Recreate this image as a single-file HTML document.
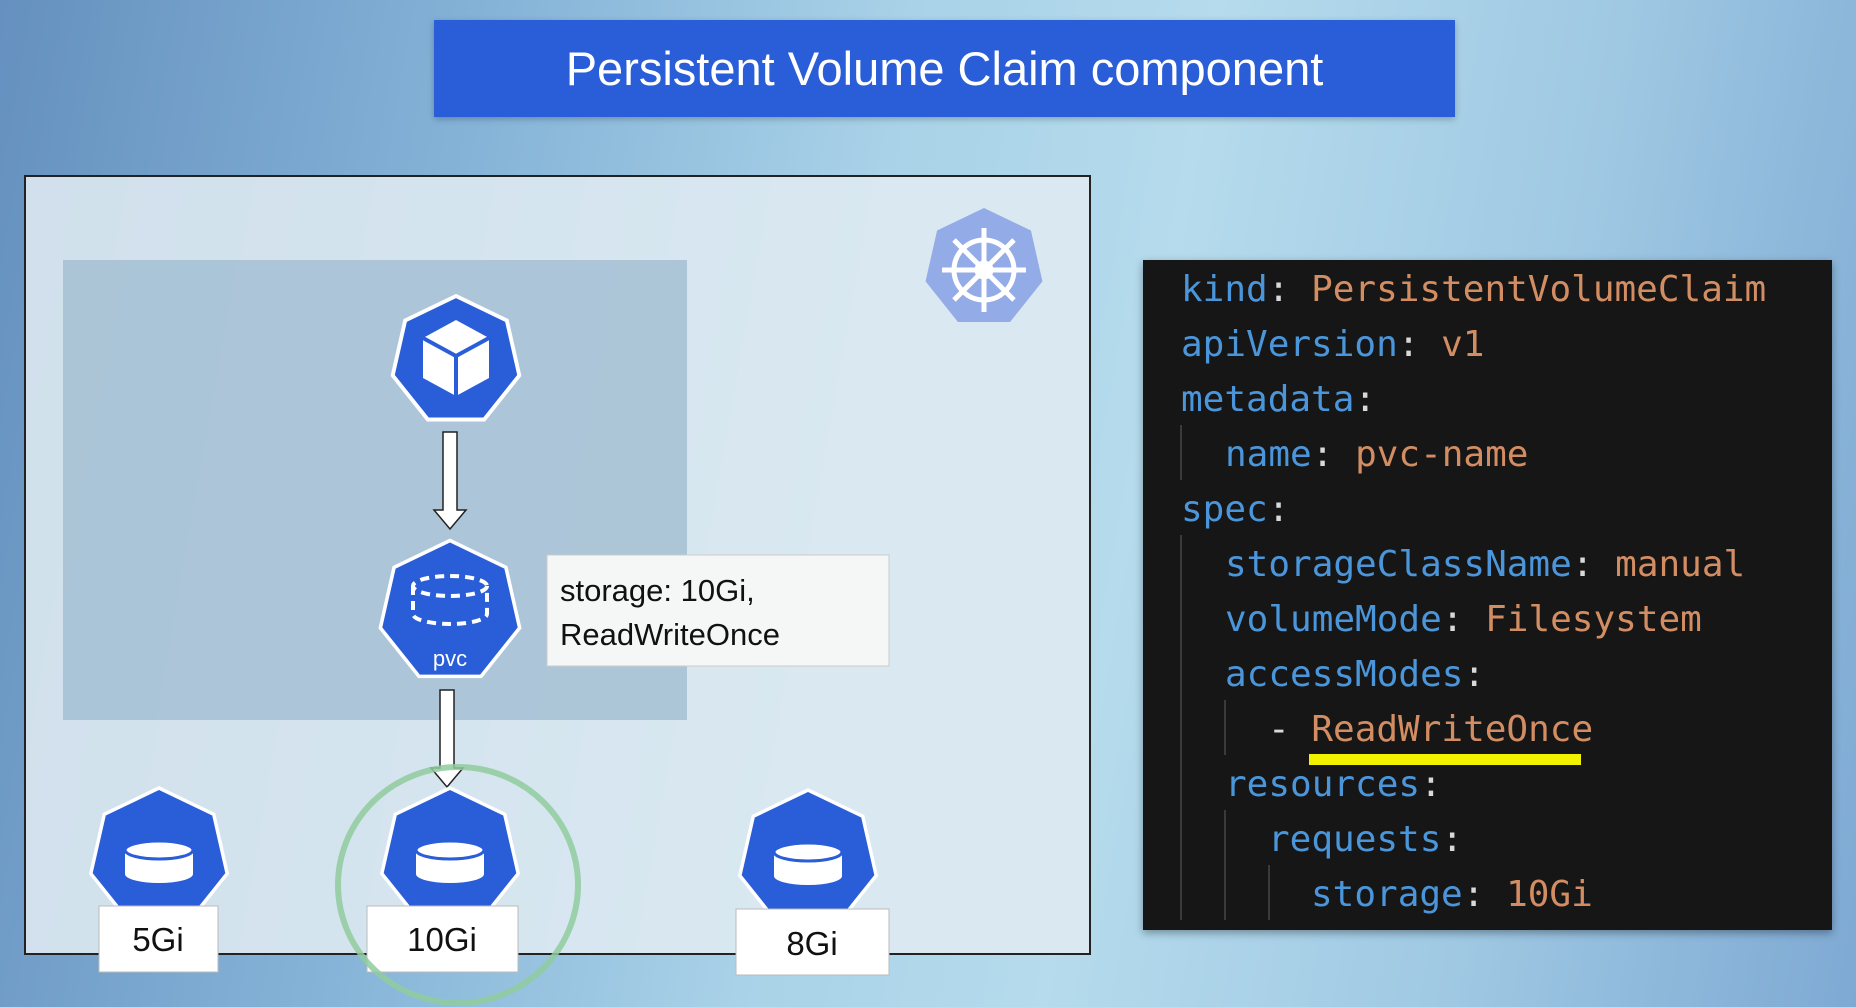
<!DOCTYPE html>
<html><head><meta charset="utf-8"><style>
html,body{margin:0;padding:0}
body{width:1856px;height:1007px;position:relative;overflow:hidden;
background:linear-gradient(100deg,#6590bf 0%,#86b4d8 25%,#a9d2e8 45%,#b5dbec 60%,#9fc8e3 80%,#7ea9d3 100%);
font-family:"Liberation Sans",sans-serif}
.title{position:absolute;left:434px;top:20px;width:1021px;height:97px;background:#2a5dd8;color:#fff;font-size:47px;
display:flex;align-items:center;justify-content:center;box-shadow:0 2px 6px rgba(0,0,0,.25)}
.code{position:absolute;left:1143px;top:260px;width:689px;height:670px;background:#161616;box-shadow:0 3px 8px rgba(0,0,0,.35);
font-family:"DejaVu Sans Mono","Liberation Mono",monospace;font-size:36px}
.l{position:absolute;height:55px;line-height:55px;white-space:pre;color:#d9d9d9}
.k{color:#4b96da}.v{color:#d38d62}
.g{position:absolute;width:2px;background:#3a3a3a}
</style></head><body>
<div class="title">Persistent Volume Claim component</div>
<svg width="1856" height="1007" style="position:absolute;left:0;top:0">
<defs>
<polygon id="h" points="0,-50 39.1,-31.2 48.7,11.1 21.7,45 -21.7,45 -48.7,11.1 -39.1,-31.2"/>
<marker id="ah" markerWidth="10" markerHeight="10" refX="5" refY="9" orient="auto" markerUnits="userSpaceOnUse"></marker>
</defs>
<rect x="25" y="176" width="1065" height="778" fill="#dfeaf1" fill-opacity="0.88" stroke="#222" stroke-width="2"/>
<rect x="63" y="260" width="624" height="460" fill="#a5bfd3" fill-opacity="0.85"/>
<!-- helm -->
<g transform="translate(984,268) scale(1.2)"><use href="#h" fill="#93abe6"/></g>
<g transform="translate(984,270)" stroke="#fff" fill="none" stroke-width="5">
<circle r="30"/><circle r="7" fill="#fff"/>
<line x1="0" y1="-42" x2="0" y2="42"/><line x1="-42" y1="0" x2="42" y2="0"/>
<line x1="-30" y1="-30" x2="30" y2="30"/><line x1="-30" y1="30" x2="30" y2="-30"/>
</g>
<!-- pod -->
<g transform="translate(456,361) scale(1.3)"><use href="#h" fill="#2a5dd8" stroke="#fff" stroke-width="3"/></g>
<g transform="translate(456,358)">
<polygon points="0,-38 33,-20 33,20 0,38 -33,20 -33,-20" fill="#fff"/>
<polyline points="-33,-20 0,-2 33,-20" fill="none" stroke="#2a5dd8" stroke-width="4"/>
<line x1="0" y1="-2" x2="0" y2="38" stroke="#2a5dd8" stroke-width="4"/>
</g>
<!-- arrow1 -->
<g fill="#fff" stroke="#222" stroke-width="1.5">
<polygon points="443,432 457,432 457,510 466,510 450,529 434,510 443,510"/>
<polygon points="440,690 454,690 454,768 463,768 447,787 431,768 440,768"/>
</g>
<!-- pvc -->
<g transform="translate(450,612) scale(1.43)"><use href="#h" fill="#2a5dd8" stroke="#fff" stroke-width="2.5"/></g>
<g transform="translate(450,598)" fill="none" stroke="#fff" stroke-width="4" stroke-dasharray="9,6">
<ellipse cx="0" cy="-12" rx="37" ry="10"/>
<path d="M-37,-12 V16 A37,10 0 0 0 37,16 V-12"/>
</g>
<text x="450" y="666" fill="#fff" font-size="22" text-anchor="middle">pvc</text>
<rect x="547" y="555" width="342" height="111" fill="#f5f6f6" stroke="#ccc"/>
<text x="560" y="601" font-size="31" fill="#111">storage: 10Gi,</text>
<text x="560" y="645" font-size="31" fill="#111">ReadWriteOnce</text>
<!-- bottom -->
<g fill="#2a5dd8" stroke="#fff" stroke-width="2.5">
<g transform="translate(159,858) scale(1.4)"><use href="#h"/></g>
<g transform="translate(450,858) scale(1.4)"><use href="#h"/></g>
<g transform="translate(808,860) scale(1.4)"><use href="#h"/></g>
</g>
<g fill="#fff">
<g transform="translate(159,862)"><rect x="-34" y="-12" width="68" height="24"/><ellipse cx="0" cy="12" rx="34" ry="9"/><ellipse cx="0" cy="-12" rx="34" ry="9" stroke="#2a5dd8" stroke-width="3"/></g>
<g transform="translate(450,862)"><rect x="-34" y="-12" width="68" height="24"/><ellipse cx="0" cy="12" rx="34" ry="9"/><ellipse cx="0" cy="-12" rx="34" ry="9" stroke="#2a5dd8" stroke-width="3"/></g>
<g transform="translate(808,864)"><rect x="-34" y="-12" width="68" height="24"/><ellipse cx="0" cy="12" rx="34" ry="9"/><ellipse cx="0" cy="-12" rx="34" ry="9" stroke="#2a5dd8" stroke-width="3"/></g>
</g>
<g fill="#fff" stroke="#bbb">
<rect x="99" y="906" width="119" height="66"/><rect x="367" y="906" width="151" height="66"/><rect x="736" y="909" width="153" height="66"/>
</g>
<g font-size="33" fill="#111" text-anchor="middle">
<text x="158" y="951">5Gi</text><text x="442" y="951">10Gi</text><text x="812" y="955">8Gi</text>
</g>
<ellipse cx="458" cy="885" rx="120" ry="118" fill="none" stroke="#8fcb9e" stroke-width="6" stroke-opacity="0.85"/>
</svg>
<div class="code">
<div class="g" style="left:37px;top:165px;height:55px"></div>
<div class="g" style="left:37px;top:275px;height:385px"></div>
<div class="g" style="left:81px;top:440px;height:55px"></div>
<div class="g" style="left:81px;top:550px;height:110px"></div>
<div class="g" style="left:125px;top:605px;height:55px"></div>
<div class="l" style="left:38px;top:2px"><span class="k">kind</span>: <span class="v">PersistentVolumeClaim</span></div>
<div class="l" style="left:38px;top:57px"><span class="k">apiVersion</span>: <span class="v">v1</span></div>
<div class="l" style="left:38px;top:112px"><span class="k">metadata</span>:</div>
<div class="l" style="left:82px;top:167px"><span class="k">name</span>: <span class="v">pvc-name</span></div>
<div class="l" style="left:38px;top:222px"><span class="k">spec</span>:</div>
<div class="l" style="left:82px;top:277px"><span class="k">storageClassName</span>: <span class="v">manual</span></div>
<div class="l" style="left:82px;top:332px"><span class="k">volumeMode</span>: <span class="v">Filesystem</span></div>
<div class="l" style="left:82px;top:387px"><span class="k">accessModes</span>:</div>
<div class="l" style="left:125px;top:442px">- <span class="v">ReadWriteOnce</span></div>
<div style="position:absolute;left:166px;top:494px;width:272px;height:11px;background:#f2f200"></div>
<div class="l" style="left:82px;top:497px"><span class="k">resources</span>:</div>
<div class="l" style="left:125px;top:552px"><span class="k">requests</span>:</div>
<div class="l" style="left:168px;top:607px"><span class="k">storage</span>: <span class="v">10Gi</span></div>
</div>
</body></html>
